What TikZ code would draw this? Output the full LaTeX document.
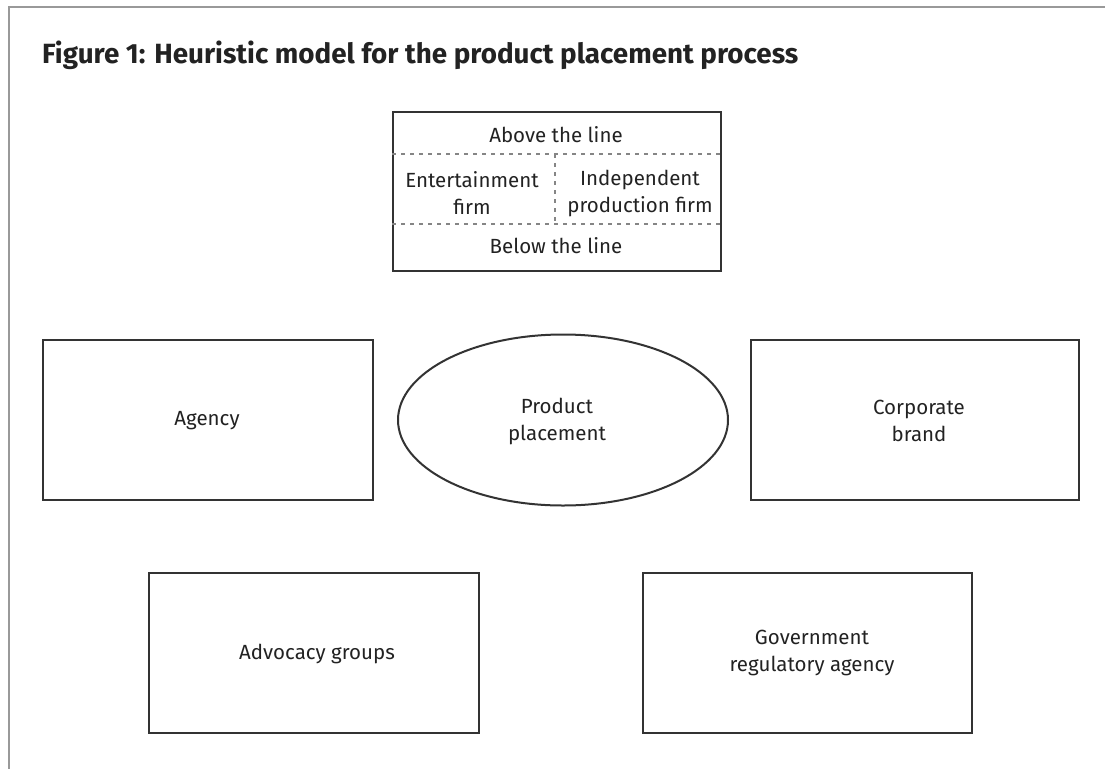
\documentclass[tikz,border=0pt]{standalone}
\usepackage{fontspec}
\setmainfont{Fira Sans}
\usetikzlibrary{shapes.geometric}
\definecolor{boxline}{HTML}{333333}
\definecolor{frameline}{HTML}{999999}
\definecolor{txt}{HTML}{222222}
\tikzset{
  box/.style={draw=boxline, line width=2pt, fill=white},
  lbl/.style={text=txt, align=center, font=\fontsize{20.5}{27}\selectfont, inner sep=0pt},
  dots/.style={draw=boxline!60, line width=1.5pt, dash pattern=on 4pt off 5pt},
}
\begin{document}
\begin{tikzpicture}[x=1pt,y=-1pt]
\useasboundingbox (0,0) rectangle (1105,769);
\fill[white] (0,0) rectangle (1105,769);
% outer frame (top and left only)
\coordinate (fTL) at (9,7);
\coordinate (fTR) at (1105,7);
\coordinate (fBL) at (9,769);
\draw[frameline, line width=2pt] (fTR) -- (fTL) -- (fBL);
% title
\node[anchor=base west, inner sep=0pt, text=txt, font=\fontsize{27.8}{30}\selectfont\bfseries] (title) at (42,63) {Figure 1: Heuristic model for the product placement process};
% top box
\node[box, minimum width=328pt, minimum height=159pt, anchor=north west] (top) at (392,111) {};
\coordinate (d1l) at (392,154); \coordinate (d1r) at (720,154);
\coordinate (d2l) at (392,224); \coordinate (d2r) at (720,224);
\coordinate (vt) at (555,154); \coordinate (vb) at (555,224);
\draw[dots] (d1l) -- (d1r);
\draw[dots] (d2l) -- (d2r);
\draw[dots] (vt) -- (vb);
\node[lbl] (above) at (556,135) {Above the line};
\node[lbl] (ent) at (472,193) {Entertainment\\firm};
\node[lbl] (ind) at (640,193) {Independent\\production firm};
\node[lbl] (below) at (556,246) {Below the line};
% middle row
\node[box, minimum width=330pt, minimum height=160pt] (agency) at (208,420) {};
\node[box, ellipse, minimum width=330pt, minimum height=171pt, inner sep=0pt] (pp) at (563,420) {};
\node[box, minimum width=328pt, minimum height=160pt] (corp) at (915,420) {};
\node[lbl] (agencyT) at (207,421) {Agency};
\node[lbl] (ppT) at (557,421) {Product\\placement};
\node[lbl] (corpT) at (919,421) {Corporate\\brand};
% bottom row
\node[box, minimum width=330pt, minimum height=160pt] (adv) at (314,653) {};
\node[box, minimum width=329pt, minimum height=160pt] (gov) at (807.5,653) {};
\node[lbl] (advT) at (317,654) {Advocacy groups};
\node[lbl] (govT) at (812,653) {Government\\regulatory agency};
\end{tikzpicture}
\end{document}
